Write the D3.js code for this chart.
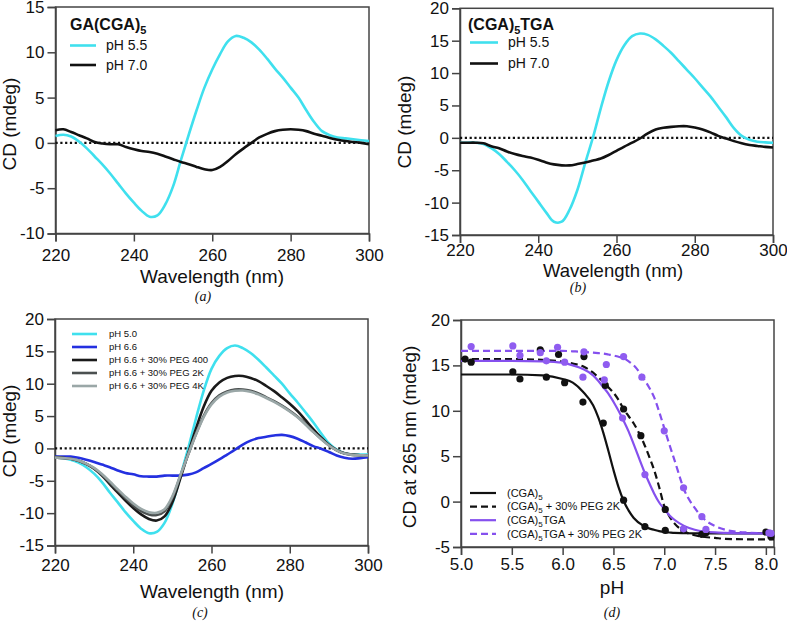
<!DOCTYPE html>
<html><head><meta charset="utf-8">
<script src="https://cdn.jsdelivr.net/npm/d3@7"></script>
<style>
body{margin:0;background:#fff}
svg{display:block}
text{font-family:"Liberation Sans",Arial,Helvetica,sans-serif;fill:#111}
</style>
</head><body>
<svg id="chart" width="787" height="621"></svg>
<script>
// ---------- DATA ----------
const wavelengths = d3.range(220, 301, 2);
const wlTicks = [220, 240, 260, 280, 300];

// Panel (a) GA(CGA)5
const aPH55 = [0.75,0.9,0.7,0.15,-0.6,-1.5,-2.4,-3.4,-4.5,-5.6,-6.6,-7.5,-8.15,-8.0,-6.8,-4.8,-1.9,0.9,3.6,6.1,8.1,9.8,11.2,11.8,11.6,11.1,10.3,9.3,8.2,7.2,6.1,5.0,3.6,2.3,1.3,0.85,0.6,0.5,0.4,0.3,0.2];
const aPH70 = [1.4,1.5,1.2,0.85,0.5,0.1,-0.07,-0.15,-0.15,-0.45,-0.7,-0.9,-1.0,-1.2,-1.5,-1.8,-2.1,-2.35,-2.65,-2.9,-3.0,-2.65,-2.0,-1.25,-0.6,0.0,0.6,1.0,1.3,1.45,1.5,1.45,1.3,1.0,0.8,0.55,0.35,0.2,0.1,0.0,-0.15];
const aTicksY = [-10, -5, 0, 5, 10, 15];

// Panel (b) (CGA)5TGA
const bPH55 = [-0.75,-0.75,-0.75,-0.95,-1.6,-2.5,-3.7,-5.0,-6.5,-8.2,-9.85,-11.5,-12.95,-12.95,-11.1,-8.05,-3.9,0.1,4.6,8.7,12.0,14.3,15.7,16.1,15.9,15.2,14.2,13.1,11.8,10.5,9.2,7.8,6.4,4.8,3.2,1.5,0.3,-0.3,-0.6,-0.7,-0.75];
const bPH70 = [-0.75,-0.75,-0.75,-0.85,-1.3,-1.6,-2.1,-2.5,-2.8,-3.05,-3.4,-3.8,-4.1,-4.25,-4.25,-4.05,-3.8,-3.5,-3.2,-2.65,-2.0,-1.35,-0.75,-0.1,0.7,1.3,1.55,1.7,1.8,1.8,1.6,1.3,0.85,0.3,-0.1,-0.5,-0.85,-1.1,-1.25,-1.4,-1.5];
const bTicksY = [-15, -10, -5, 0, 5, 10, 15, 20];

// Panel (c)
const cPH50 = [-1.35,-1.5,-1.75,-2.2,-2.9,-3.9,-5.2,-6.8,-8.3,-9.85,-11.2,-12.4,-13.1,-12.9,-11.5,-8.55,-4.45,-0.1,4.55,8.9,12.3,14.3,15.5,15.9,15.5,14.75,13.7,12.5,11.25,10.0,8.5,7.1,5.6,4.05,2.35,0.8,-0.2,-0.75,-0.95,-0.95,-0.95];
const cPH66 = [-1.25,-1.25,-1.25,-1.45,-1.75,-2.1,-2.5,-2.9,-3.4,-3.8,-4.0,-4.3,-4.35,-4.35,-4.2,-4.2,-4.2,-4.05,-3.7,-3.05,-2.4,-1.7,-0.95,-0.2,0.6,1.2,1.6,1.8,2.0,2.1,1.9,1.5,0.95,0.35,-0.05,-0.55,-1.1,-1.45,-1.6,-1.5,-1.35];
const cPEG400 = [-1.35,-1.45,-1.6,-1.9,-2.4,-3.15,-4.2,-5.5,-6.8,-8.05,-9.2,-10.2,-10.9,-11.15,-10.5,-8.3,-4.7,-0.85,3.0,6.45,8.9,10.2,10.9,11.2,11.2,10.9,10.4,9.65,8.85,7.9,6.9,5.75,4.4,3.0,1.7,0.55,-0.25,-0.75,-0.95,-1.05,-1.1];
const cPEG2K = [-1.4,-1.5,-1.6,-1.9,-2.4,-3.1,-4.1,-5.3,-6.5,-7.7,-8.8,-9.7,-10.2,-10.3,-9.7,-7.6,-4.3,-1.0,2.2,5.0,7.0,8.2,8.8,9.1,9.1,8.9,8.5,7.9,7.3,6.6,5.8,4.9,3.8,2.6,1.5,0.5,-0.3,-0.8,-1.0,-1.05,-1.1];
const cPEG4K = [-1.4,-1.5,-1.6,-1.85,-2.35,-3.0,-3.95,-5.1,-6.3,-7.45,-8.5,-9.35,-9.85,-9.95,-9.4,-7.4,-4.2,-1.0,2.1,4.85,6.8,8.0,8.65,8.9,8.95,8.75,8.35,7.8,7.2,6.5,5.7,4.8,3.7,2.55,1.45,0.45,-0.3,-0.8,-1.0,-1.05,-1.1];
const cTicksY = [-15, -10, -5, 0, 5, 10, 15, 20];
const cLabels = ["pH 5.0", "pH 6.6", "pH 6.6 + 30% PEG 400", "pH 6.6 + 30% PEG 2K", "pH 6.6 + 30% PEG 4K"];

// Panel (d) CD at 265 nm vs pH: measured points
const dCGA5pH   = [5.10,5.51,5.58,5.84,6.02,6.20,6.40,6.60,6.81,7.01,7.19,7.41,8.00];
const dCGA5CD   = [15.35,14.3,13.5,13.7,13.1,10.96,8.65,0.16,-2.76,-3.17,-3.06,-3.42,-3.35];
const dCGA5PEGpH = [5.04,5.78,5.96,6.21,6.42,6.60,6.77,7.01,7.37,8.05];
const dCGA5PEGCD = [15.7,16.7,16.2,15.97,12.8,10.2,7.26,-0.86,-3.6,-3.86];
const dTGApH    = [5.58,5.84,6.02,6.20,6.41,6.59,6.81,7.19,7.41,8.03];
const dTGACD    = [16.1,15.5,15.35,13.7,13.4,9.2,2.98,-3.0,-3.06,-3.45];
const dTGAPEGpH = [5.10,5.51,5.78,5.95,6.21,6.43,6.60,6.78,7.00,7.19,7.37,8.05];
const dTGAPEGCD = [17.07,17.15,16.4,17.0,16.5,15.1,15.97,13.7,7.8,1.52,-1.66,-3.5];
// fitted curves
const fitPH = [5.0,5.5,5.8,6.0,6.1,6.2,6.3,6.35,6.4,6.45,6.5,6.55,6.6,6.65,6.7,6.8,6.85,6.9,6.95,7.0,7.05,7.1,7.2,7.3,7.4,7.5,7.6,7.8,8.08];
const fitCGA5   = [14.0,14.0,13.9,13.5,13.1,12.1,10.6,9.3,7.6,5.6,3.5,1.6,0.1,-1.0,-1.8,-2.7,-2.95,-3.1,-3.25,-3.35,-3.4,-3.45,-3.48,-3.5,-3.5,-3.5,-3.5,-3.5,-3.5];
const fitCGA5PEG= [15.7,15.7,15.6,15.4,15.2,14.9,14.2,13.7,13.2,12.6,12.0,11.2,10.2,9.4,8.6,6.4,5.0,3.5,1.6,-0.5,-1.6,-2.4,-3.3,-3.7,-3.9,-4.0,-4.1,-4.15,-4.15];
const fitTGA    = [15.5,15.5,15.45,15.3,15.0,14.6,13.9,13.3,12.6,11.9,11.0,10.0,8.9,7.7,6.3,3.4,2.1,0.9,-0.1,-0.8,-1.5,-2.0,-2.7,-3.1,-3.3,-3.4,-3.45,-3.5,-3.5];
const fitTGAPEG = [16.6,16.6,16.6,16.6,16.55,16.5,16.4,16.35,16.3,16.2,16.1,15.95,15.8,15.45,15.0,13.5,12.6,11.5,9.9,8.1,6.3,4.6,1.2,-0.7,-2.0,-2.7,-3.1,-3.4,-3.5];
const dTicksX = [5.0, 5.5, 6.0, 6.5, 7.0, 7.5, 8.0];
const dTicksY = [-5, 0, 5, 10, 15, 20];

// ---------- DRAWING ----------
const svg = d3.select("#chart");
const AX = "#444";
const CYAN = "#3FE0EE";
const PURPLE = "#8550EE";

function panel(cfg) {
  const g = svg.append("g");
  const x = d3.scaleLinear().domain(cfg.xd).range([cfg.l, cfg.r]);
  const y = d3.scaleLinear().domain(cfg.yd).range([cfg.b, cfg.t]);
  g.append("rect").attr("x", cfg.l).attr("y", cfg.t).attr("width", cfg.r - cfg.l).attr("height", cfg.b - cfg.t)
    .attr("fill", "none").attr("stroke", AX).attr("stroke-width", 1.5);
  const xa = g.append("g").attr("transform", `translate(0,${cfg.b})`)
    .call(d3.axisBottom(x).tickValues(cfg.xt).tickSize(8).tickPadding(cfg.xpad).tickFormat(cfg.xf || (d => String(d))));
  const ya = g.append("g").attr("transform", `translate(${cfg.l},0)`)
    .call(d3.axisLeft(y).tickValues(cfg.yt).tickSize(8).tickPadding(3).tickFormat(d => String(d)));
  [xa, ya].forEach(a => {
    a.select(".domain").attr("stroke", AX).attr("stroke-width", 1.5);
    a.selectAll(".tick line").attr("stroke", AX).attr("stroke-width", 1.5);
    a.selectAll(".tick text").attr("font-size", 17).attr("fill", "#111")
      .style("font-family", '"Liberation Sans",Arial,sans-serif');
  });
  g.append("text").attr("x", cfg.xtx).attr("y", cfg.xty).attr("text-anchor", "middle")
    .attr("font-size", cfg.xtfs || 19).text(cfg.xtitle);
  g.append("text").attr("transform", `translate(${cfg.ytx},${cfg.yty}) rotate(-90)`).attr("text-anchor", "middle")
    .attr("font-size", 19).text(cfg.ytitle);
  g.append("text").attr("x", cfg.capx).attr("y", cfg.capy).attr("text-anchor", "middle")
    .attr("font-size", 14).attr("font-style", "italic").style("font-family", '"Liberation Serif","Times New Roman",serif')
    .text(cfg.cap);
  return {g, x, y};
}

function zeroLine(p) {
  p.g.append("line").attr("x1", p.x.range()[0]).attr("x2", p.x.range()[1])
    .attr("y1", p.y(0)).attr("y2", p.y(0)).attr("stroke", "#111").attr("stroke-width", 2.2)
    .attr("stroke-dasharray", "2.2,2.6");
}
function spectrum(p, vals, color, w) {
  const line = d3.line().x((d, i) => p.x(wavelengths[i])).y(d => p.y(d)).curve(d3.curveCatmullRom.alpha(0.5));
  p.g.append("path").datum(vals).attr("d", line).attr("fill", "none").attr("stroke", color)
    .attr("stroke-width", w || 2.6).attr("stroke-linejoin", "round");
}
function legendTitle(p, x, y, main, sub, rest) {
  const t = p.g.append("text").attr("x", x).attr("y", y).attr("font-size", 16).attr("font-weight", "bold");
  t.append("tspan").text(main);
  t.append("tspan").attr("font-size", 11).attr("dy", 4).text(sub);
  if (rest) t.append("tspan").attr("dy", -4).text(rest);
}
function legendRow(p, x1, x2, tx, y, color, label, fs, w, dash) {
  p.g.append("line").attr("x1", x1).attr("x2", x2).attr("y1", y).attr("y2", y)
    .attr("stroke", color).attr("stroke-width", w).attr("stroke-dasharray", dash || null);
  return p.g.append("text").attr("x", tx).attr("y", y).attr("dy", "0.35em").attr("font-size", fs).text(label);
}

// (a)
const pa = panel({l:55.5, r:369, t:7, b:233.5, xd:[220,300], yd:[-10,15], xt:wlTicks, yt:aTicksY, xpad:7,
  xtitle:"Wavelength (nm)", xtx:212, xty:283, ytitle:"CD (mdeg)", ytx:16, yty:124, cap:"(a)", capx:203, capy:301});
zeroLine(pa);
spectrum(pa, aPH55, CYAN);
spectrum(pa, aPH70, "#111");
legendTitle(pa, 70, 30, "GA(CGA)", "5");
legendRow(pa, 70, 96, 106, 45.5, CYAN, "pH 5.5", 14, 2.6);
legendRow(pa, 70, 96, 106, 65, "#111", "pH 7.0", 14, 2.6);

// (b)
const pb = panel({l:460, r:773, t:8.3, b:235, xd:[220,300], yd:[-15,20], xt:wlTicks, yt:bTicksY, xpad:1,
  xtitle:"Wavelength (nm)", xtfs:18.5, xtx:613, xty:277, ytitle:"CD (mdeg)", ytx:411, yty:122, cap:"(b)", capx:578, capy:292});
zeroLine(pb);
spectrum(pb, bPH55, CYAN);
spectrum(pb, bPH70, "#111");
legendTitle(pb, 468, 29.5, "(CGA)", "5", "TGA");
legendRow(pb, 470, 498, 508, 42.5, CYAN, "pH 5.5", 14, 2.6);
legendRow(pb, 470, 498, 508, 63.5, "#111", "pH 7.0", 14, 2.6);

// (c)
const pc = panel({l:55, r:368, t:319, b:545.5, xd:[220,300], yd:[-15,20], xt:wlTicks, yt:cTicksY, xpad:5,
  xtitle:"Wavelength (nm)", xtx:212, xty:598, ytitle:"CD (mdeg)", ytx:16, yty:431, cap:"(c)", capx:200, capy:617});
zeroLine(pc);
const cSeries = [cPH50, cPH66, cPEG400, cPEG2K, cPEG4K];
const cColors = [CYAN, "#2430E0", "#1a1a1a", "#4b5050", "#9aa7a7"];
cSeries.forEach((s, i) => spectrum(pc, s, cColors[i], 2.6));
cLabels.forEach((lab, i) => legendRow(pc, 72, 97, 109, 334 + i * 13, cColors[i], lab, 9.5, 2.6));

// (d)
const pd = panel({l:461, r:774, t:320, b:547, xd:[5.0, 8.08], yd:[-5,20], xt:dTicksX, yt:dTicksY, xpad:3,
  xf:d3.format(".1f"),
  xtitle:"pH", xtx:612, xty:594, ytitle:"CD at 265 nm (mdeg)", ytx:416, yty:437, cap:"(d)", capx:612, capy:617});
const fitLine = vals => d3.line().x((d, i) => pd.x(fitPH[i])).y(d => pd.y(d)).curve(d3.curveMonotoneX)(vals);
const dSets = [
  {px:dCGA5pH, py:dCGA5CD, fit:fitCGA5, color:"#111", dash:null},
  {px:dCGA5PEGpH, py:dCGA5PEGCD, fit:fitCGA5PEG, color:"#111", dash:"7,4"},
  {px:dTGApH, py:dTGACD, fit:fitTGA, color:PURPLE, dash:null},
  {px:dTGAPEGpH, py:dTGAPEGCD, fit:fitTGAPEG, color:PURPLE, dash:"7,4"}
];
dSets.forEach(s => {
  pd.g.append("path").attr("d", fitLine(s.fit)).attr("fill", "none").attr("stroke", s.color)
    .attr("stroke-width", 2.2).attr("stroke-dasharray", s.dash);
});
dSets.forEach(s => {
  pd.g.append("g").selectAll("circle").data(s.px).join("circle")
    .attr("cx", d => pd.x(d)).attr("cy", (d, i) => pd.y(s.py[i])).attr("r", 3.6)
    .attr("fill", s.color === PURPLE ? "#8f5cf0" : "#111");
});
const dLeg = [["(CGA)", "5", ""], ["(CGA)", "5", " + 30% PEG 2K"], ["(CGA)", "5", "TGA"], ["(CGA)", "5", "TGA + 30% PEG 2K"]];
dLeg.forEach((L, i) => {
  const s = dSets[i];
  const t = legendRow(pd, 470, 496, 507, 493 + i * 13.6, s.color, "", 11, 2.2, s.dash);
  t.append("tspan").text(L[0]);
  t.append("tspan").attr("font-size", 8).attr("dy", 3).text(L[1]);
  t.append("tspan").attr("dy", -3).text(L[2]);
});
</script>
</body></html>
